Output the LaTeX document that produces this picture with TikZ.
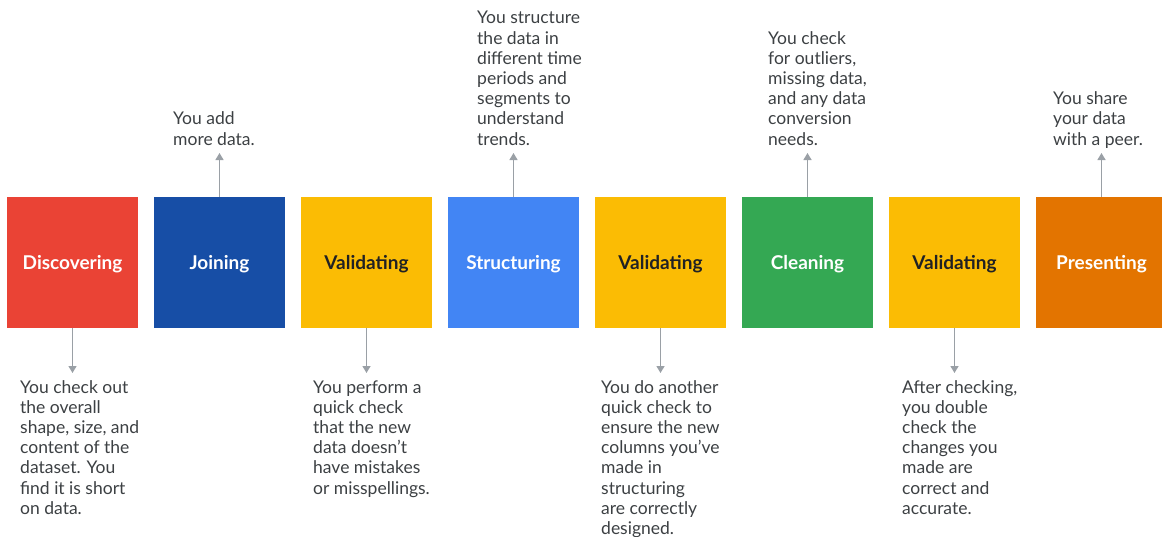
\documentclass[tikz,border=0pt]{standalone}
\usepackage{fontspec}
\setmainfont{Lato}
\usetikzlibrary{arrows.meta}
\definecolor{cRed}{HTML}{EA4335}
\definecolor{cNavy}{HTML}{174EA6}
\definecolor{cYellow}{HTML}{FBBC04}
\definecolor{cBlue}{HTML}{4285F4}
\definecolor{cGreen}{HTML}{34A853}
\definecolor{cOrange}{HTML}{E37400}
\definecolor{cText}{HTML}{3C4043}
\definecolor{cDark}{HTML}{202124}
\definecolor{cArrow}{HTML}{9AA0A6}
\tikzset{
  stagebox/.style={minimum width=131pt,minimum height=131pt,inner sep=0pt,
    font=\fontsize{19}{22}\selectfont\bfseries,text=white},
  lbl/.style={inner sep=0pt,text height=13.5pt,text depth=0pt,
    font=\fontsize{19}{22}\selectfont\bfseries,text=white},
  desc/.style={anchor=base west,inner sep=0pt,align=left,text=cText,
    font=\fontsize{17.5}{20.2}\selectfont},
  arr/.style={draw=cArrow,line width=1.4pt,-{Triangle[width=8pt,length=7pt]}}
}
\begin{document}
\begin{tikzpicture}[x=1pt,y=-1pt]
\useasboundingbox (0,0) rectangle (1162,536);
\clip (0,0) rectangle (1162,536);
\node[stagebox,fill=cRed] (b1) at (72.5,262.5) {};
\node[stagebox,fill=cNavy] (b2) at (219.5,262.5) {};
\node[stagebox,fill=cYellow] (b3) at (366.5,262.5) {};
\node[stagebox,fill=cBlue] (b4) at (513.5,262.5) {};
\node[stagebox,fill=cYellow] (b5) at (660.5,262.5) {};
\node[stagebox,fill=cGreen] (b6) at (807.5,262.5) {};
\node[stagebox,fill=cYellow] (b7) at (954.5,262.5) {};
\node[stagebox,fill=cOrange] (b8) at (1101.5,262.5) {};

\node[lbl] (l1) at (b1.center) {Discovering};
\node[lbl] (l2) at (b2.center) {Joining};
\node[lbl,text=cDark] (l3) at (b3.center) {Validating};
\node[lbl] (l4) at (b4.center) {Structuring};
\node[lbl,text=cDark] (l5) at (b5.center) {Validating};
\node[lbl] (l6) at (b6.center) {Cleaning};
\node[lbl,text=cDark] (l7) at (b7.center) {Validating};
\node[lbl] (l8) at (b8.center) {Presenting};

% base anchor = baseline of the last line
\node[desc] (t1) at (20,514.2) {You check out\\the overall\\shape, size, and\\content of the\\dataset. You\\find it is short\\on data.};
\node[desc] (t2) at (173,145) {You add\\more data.};
\node[desc] (t3) at (313,494) {You perform a\\quick check\\that the new\\data doesn’t\\have mistakes\\or misspellings.};
\node[desc] (t4) at (477,145) {You structure\\the data in\\different time\\periods and\\segments to\\understand\\trends.};
\node[desc] (t5) at (601,534.4) {You do another\\quick check to\\ensure the new\\columns you’ve\\made in\\structuring\\are correctly\\designed.};
\node[desc] (t6) at (768,145) {You check\\for outliers,\\missing data,\\and any data\\conversion\\needs.};
\node[desc] (t7) at (902,514.2) {After checking,\\you double\\check the\\changes you\\made are\\correct and\\accurate.};
\node[desc] (t8) at (1053,145) {You share\\your data\\with a peer.};

\coordinate (e1) at (72.5,373);
\coordinate (e2) at (219.5,153);
\coordinate (e3) at (366.5,373);
\coordinate (e4) at (513.5,153);
\coordinate (e5) at (660.5,373);
\coordinate (e6) at (807.5,153);
\coordinate (e7) at (954.5,373);
\coordinate (e8) at (1101.5,153);

\draw[arr] (b1.south) -- (e1);
\draw[arr] (b2.north) -- (e2);
\draw[arr] (b3.south) -- (e3);
\draw[arr] (b4.north) -- (e4);
\draw[arr] (b5.south) -- (e5);
\draw[arr] (b6.north) -- (e6);
\draw[arr] (b7.south) -- (e7);
\draw[arr] (b8.north) -- (e8);
\end{tikzpicture}
\end{document}
